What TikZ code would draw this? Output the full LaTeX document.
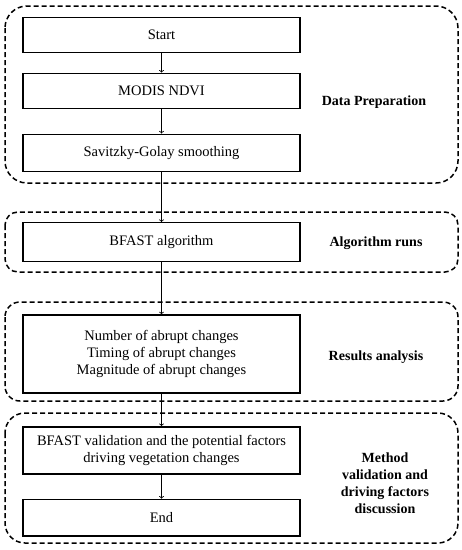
\documentclass[tikz,border=0pt]{standalone}
\usepackage{fontspec}
\setmainfont{Liberation Serif}
\tikzset{
  stepbox/.style={draw, line width=1.4pt, minimum width=277pt, align=center,
    inner sep=0pt, font=\fontsize{14.5}{17}\selectfont},
  groupbox/.style={draw, line width=1.5pt, dash pattern=on 5pt off 3pt},
  grouplabel/.style={align=center, font=\fontsize{14}{17}\selectfont\bfseries},
  flow/.style={->, >=to, line width=0.8pt}
}
\begin{document}
\begin{tikzpicture}[x=1pt,y=-1pt]
        \useasboundingbox (0,0) rectangle (462,550);
        % dashed groups
        \draw[groupbox, rounded corners=22pt] (5,6) rectangle (458,183);
        \draw[groupbox, rounded corners=13pt] (5,212) rectangle (458,272);
        \draw[groupbox, rounded corners=15pt] (5,302) rectangle (458,401);
        \draw[groupbox, rounded corners=20pt] (5,413) rectangle (458,543);
        % steps
        \node[stepbox, minimum height=35.5pt] (start) at (161.5,35) {Start};
        \node[stepbox, minimum height=35pt] (modis) at (161.5,90.8) {MODIS NDVI};
        \node[stepbox, minimum height=37pt] (smooth) at (161.5,152.7) {Savitzky-Golay smoothing};
        \node[stepbox, minimum height=39pt] (bfast) at (161.5,242.2) {BFAST algorithm};
        \node[stepbox, minimum height=78pt] (results) at (161.5,354) {Number of abrupt changes\\Timing of abrupt changes\\Magnitude of abrupt changes};
        \node[stepbox, minimum height=47pt] (valid) at (161.5,450.3) {BFAST validation and the potential factors\\driving vegetation changes};
        \node[stepbox, minimum height=36.7pt] (end) at (161.5,517.7) {End};
        % group labels
        \node[grouplabel] (prep) at (374,102) {Data Preparation};
        \node[grouplabel] (runs) at (376,243) {Algorithm runs};
        \node[grouplabel] (analysis) at (376,357) {Results analysis};
        \node[grouplabel] (method) at (385,483) {Method\\validation and\\driving factors\\discussion};
        % arrows
        \draw[flow] (start) -- (modis);
        \draw[flow] (modis) -- (smooth);
        \draw[flow] (smooth) -- (bfast);
        \draw[flow] (bfast) -- (results);
        \draw[flow] (results) -- (valid);
        \draw[flow] (valid) -- (end);
\end{tikzpicture}
\end{document}
